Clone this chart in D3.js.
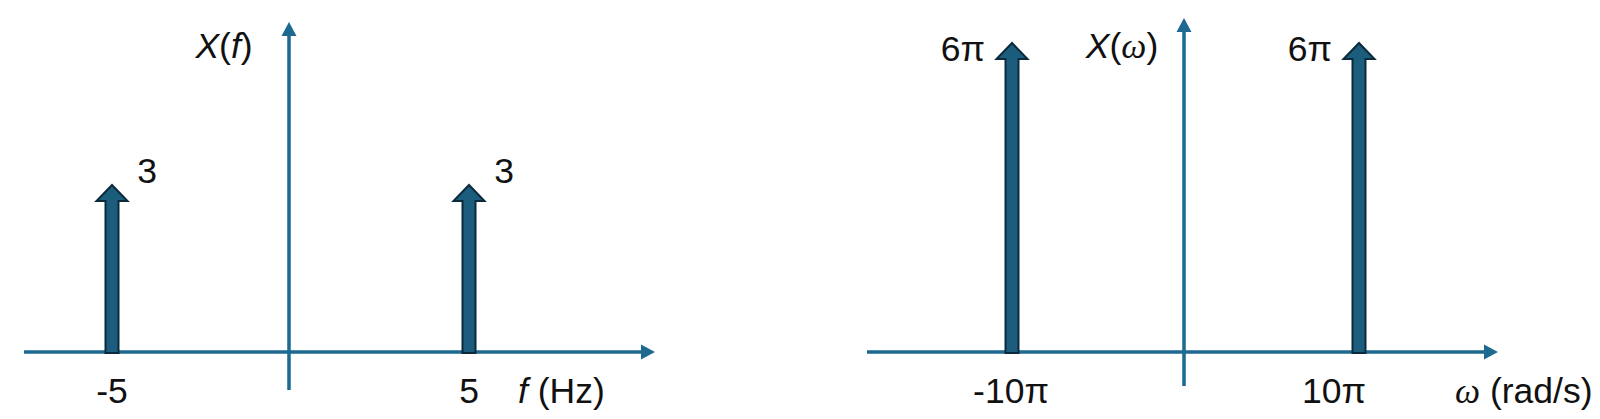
<!DOCTYPE html>
<html><head><meta charset="utf-8">
<script src="https://cdn.jsdelivr.net/npm/d3@7"></script>
<style>body{margin:0;background:#fff}svg{display:block}</style>
</head><body>
<script>
// Left panel: X(f), impulses at f = ±5 Hz, weight 3
const fPositions = [-5, 5];
const fWeights = [3, 3];
const fTickLabels = ["-5", "5"];
const fWeightLabels = ["3", "3"];
// Right panel: X(ω), impulses at ω = ±10π, weight 6π (values in units of π)
const wPositions = [-10, 10];
const wWeights = [6, 6];
const wTickLabels = ["-10π", "10π"];
const wWeightLabels = ["6π", "6π"];

const W = 1600, H = 419;
const axisColor = "#1d6990";
const fillColor = "#1c5d7e";
const edgeColor = "#0b2a3b";
const font = "'Liberation Sans', Arial, sans-serif";
const FS = 35.5;

const svg = d3.select("body").append("svg").attr("width", W).attr("height", H);

const baseY = 352;
const xL = d3.scaleLinear().domain([-5, 5]).range([112, 469]);
const yL = d3.scaleLinear().domain([0, 3]).range([baseY, 185]);
const xR = d3.scaleLinear().domain([-10, 10]).range([1012, 1359]);
const yR = d3.scaleLinear().domain([0, 6]).range([baseY, 43]);

function axes(g, x0, x1, yAxisX, yTop, yBottom) {
  g.append("line").attr("x1", x0).attr("x2", x1 - 12).attr("y1", baseY).attr("y2", baseY)
    .attr("stroke", axisColor).attr("stroke-width", 3.5);
  g.append("path").attr("d", d3.line()([[x1, baseY], [x1 - 14, baseY - 7.5], [x1 - 14, baseY + 7.5]]) + "Z")
    .attr("fill", axisColor);
  g.append("line").attr("x1", yAxisX).attr("x2", yAxisX).attr("y1", yTop + 12).attr("y2", yBottom)
    .attr("stroke", axisColor).attr("stroke-width", 3.5);
  g.append("path").attr("d", d3.line()([[yAxisX, yTop], [yAxisX - 7.5, yTop + 14], [yAxisX + 7.5, yTop + 14]]) + "Z")
    .attr("fill", axisColor);
}

function impulses(g, xs, ws, x, y) {
  const shaft = 6.5, head = 15.5, headH = 16;
  g.selectAll("path.imp").data(xs.map((d, i) => ({p: d, w: ws[i]}))).join("path")
    .attr("class", "imp")
    .attr("d", d => {
      const cx = x(d.p), tip = y(d.w), b = y(0) + 1;
      return d3.line()([
        [cx - shaft, b], [cx - shaft, tip + headH], [cx - head, tip + headH], [cx, tip],
        [cx + head, tip + headH], [cx + shaft, tip + headH], [cx + shaft, b]
      ]) + "Z";
    })
    .attr("fill", fillColor).attr("stroke", edgeColor).attr("stroke-width", 2).attr("stroke-linejoin", "miter");
}

function txt(g, x, y, s, anchor) {
  const t = g.append("text").attr("x", x).attr("y", y).attr("text-anchor", anchor || "middle")
    .attr("font-family", font).attr("font-size", FS).attr("fill", "#111");
  if (typeof s === "string") t.text(s); else s(t);
  return t;
}

// ---------- Left panel ----------
const gL = svg.append("g");
axes(gL, 24, 655, 289, 22, 390);
impulses(gL, fPositions, fWeights, xL, yL);
fPositions.forEach((p, i) => {
  txt(gL, xL(p), 403, fTickLabels[i]);
  txt(gL, xL(p) + 35, yL(fWeights[i]) - 2, fWeightLabels[i]);
});
txt(gL, 224, 58, t => {
  t.append("tspan").attr("font-style", "italic").text("X");
  t.append("tspan").text("(");
  t.append("tspan").attr("font-style", "italic").text("f");
  t.append("tspan").text(")");
});
txt(gL, 518, 403, t => {
  t.append("tspan").attr("font-style", "italic").text("f");
  t.append("tspan").text(" (Hz)");
}, "start");

// ---------- Right panel ----------
const gR = svg.append("g");
axes(gR, 867, 1498, 1184, 18, 386);
impulses(gR, wPositions, wWeights, xR, yR);
wPositions.forEach((p, i) => {
  txt(gR, xR(p) - (i === 1 ? 25 : 1), 403, wTickLabels[i]);
  txt(gR, xR(p) - 27, yR(wWeights[i]) + 18, wWeightLabels[i], "end");
});
txt(gR, 1122, 58, t => {
  t.append("tspan").attr("font-style", "italic").text("X");
  t.append("tspan").text("(");
  t.append("tspan").attr("font-style", "italic").attr("font-family", "'Liberation Serif', serif").text("ω");
  t.append("tspan").text(")");
});
txt(gR, 1455, 403, t => {
  t.append("tspan").attr("font-style", "italic").attr("font-family", "'Liberation Serif', serif").text("ω");
  t.append("tspan").text(" (rad/s)");
}, "start");
</script>
</body></html>
